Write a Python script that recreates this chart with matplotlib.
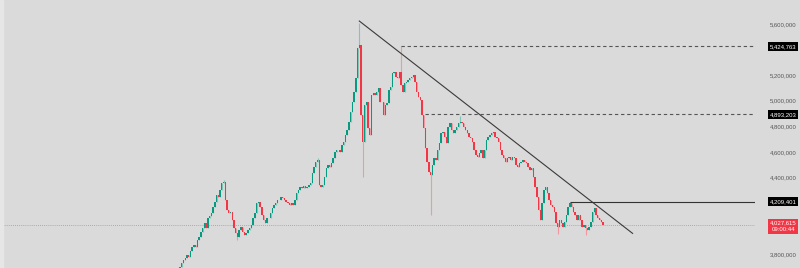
import matplotlib
matplotlib.use('Agg')
import matplotlib.pyplot as plt
import matplotlib.transforms as mtransforms
from matplotlib.patches import Rectangle

# 1. 데이터 (가격, 천 단위)
closes = [
    # 상승 구간
    3694, 3733, 3749, 3765, 3788, 3780, 3827, 3851, 3867, 3851, 3906, 3929, 3969, 4000, 4039, 4000,
    4078, 4094, 4118, 4165, 4204, 4259, 4243, 4298, 4353, 4361, 4220, 4141, 4118, 4125, 4063, 4000,
    3961, 3929, 3984, 4008, 3969, 3945, 3961, 3984, 4000, 4024, 4078, 4118, 4196, 4204, 4165, 4102,
    4063, 4039, 4078,
    4078, 4118, 4157, 4180, 4196, 4220, 4220, 4243, 4235, 4220, 4204, 4196, 4180, 4196, 4180, 4220,
    4275, 4298, 4322, 4314, 4329, 4314, 4322, 4337, 4353, 4431, 4478, 4518, 4533, 4337, 4322, 4337,
    4400, 4471, 4494, 4478, 4510, 4549, 4596, 4612, 4612, 4596, 4651, 4675, 4729, 4769,
    # 고점 구간
    4831, 4910, 4988, 5067, 5176, 5412, 5435, 4886, 4675, 4965, 4988, 4784, 4729, 5043, 5059, 5043,
    5067, 5098, 4988, 4988, 4886, 4965, 4980, 5082, 5106, 5216, 5224, 5184, 5176, 5224, 5122, 5067,
    5137, 5145, 5161, 5176, 5184, 5200, 5145, 5067, 5027, 5004, 4886, 4784, 4627, 4518, 4439, 4416,
    4494, 4549,
    # 하락 구간
    4533, 4612, 4667, 4745, 4753, 4714, 4667, 4792, 4824, 4769, 4745, 4769, 4792, 4824, 4831, 4824,
    4792, 4769, 4745, 4714, 4706, 4675, 4612, 4573, 4557, 4588, 4612, 4549, 4612, 4690, 4714, 4729,
    4745, 4753, 4714, 4706, 4675, 4612, 4573, 4549, 4518, 4549, 4557, 4533, 4557, 4549, 4494, 4478,
    4510, 4518,
    4533, 4518, 4510, 4478, 4455, 4471, 4400, 4322, 4243, 4141, 4063, 4196, 4298, 4322, 4275, 4220,
    4180, 4165, 4125, 4039, 4008, 4063, 4039, 4008, 4047, 4102, 4165, 4196, 4165, 4125, 4102, 4063,
    4102, 4063, 4008, 4024, 4000, 3984, 4008, 4047, 4125, 4157, 4102, 4078, 4063, 4047, 4027.615,
]
first_open = 3680

# 눈에 띄는 꼬리
high_idx = [25, 79, 103, 127, 161, 224]
high_val = [4376, 4549, 5610, 5424.763, 4880, 4209.401]
low_idx = [33, 105, 144, 217, 233]
low_val = [3906, 4400, 4102, 3960, 3945]

# 추세선 / 수평선
trend_idx = [103, 260]
trend_val = [5624, 3961]
level_start = [127, 141, 224]
level_val = [5424.763, 4893.203, 4209.401]
last_time = '09:00:44'

tick_vals = [5600, 5200, 5000, 4800, 4600, 4400, 3800]

# 2. OHLC 만들기
n = len(closes)
opens = [first_open] + closes[:-1]
highs = [max(o, c) for o, c in zip(opens, closes)]
lows = [min(o, c) for o, c in zip(opens, closes)]
for i, v in zip(high_idx, high_val):
    highs[i] = v
for i, v in zip(low_idx, low_val):
    lows[i] = v

green = '#089981'
red = '#f23645'
bg = '#dadada'
colors = [green if c >= o else red for o, c in zip(opens, closes)]
wick_colors = ['#7cc7b8' if c >= o else '#f398a0' for o, c in zip(opens, closes)]

# 3. 그리기
fig = plt.figure(figsize=(8, 2.68), dpi=100)
fig.patch.set_facecolor(bg)
ax = fig.add_axes([0, 0, 755 / 800, 1])
ax.set_facecolor(bg)

x = list(range(n))
ax.vlines(x, lows, highs, colors=wick_colors, lw=0.8, zorder=2)
bodies = [max(abs(c - o), 5) for o, c in zip(opens, closes)]
bottoms = [min(o, c) for o, c in zip(opens, closes)]
ax.bar(x, bodies, bottom=bottoms, width=0.8, color=colors, linewidth=0, zorder=3)

sp = 423 / (n - 1)
xmin, xmax = -180 / sp, (755 - 180) / sp
ax.set_xlim(xmin, xmax)
ax.set_ylim(3690, 5788.7)

ax.plot(trend_idx, trend_val, color='#3a3a3a', lw=0.8, zorder=4)
ax.hlines(level_val[:2], level_start[:2], xmax, colors='#555555', lw=0.8,
          linestyles=(0, (3, 2.5)), zorder=4)
ax.hlines(level_val[2], level_start[2], xmax, colors='#333333', lw=0.8, zorder=4)
ax.axhline(closes[-1], color=red, lw=0.6, ls=(0, (1, 1.5)), alpha=0.6, zorder=1)

for s in ax.spines.values():
    s.set_visible(False)
ax.set_xticks([])
ax.yaxis.tick_right()
ax.set_yticks(tick_vals)
ax.set_yticklabels([f'{v * 1000:,.0f}' for v in tick_vals], fontsize=4.3,
                   color='#555555', family='Liberation Sans')
ax.tick_params(axis='y', length=0, pad=11)

# 가격 라벨
trans = mtransforms.blended_transform_factory(fig.transFigure, ax.transData)
for v in level_val:
    ax.text(0.979, v, f'{v * 1000:,.0f}', transform=trans, ha='center', va='center',
            fontsize=4.3, color='white', family='Liberation Sans', clip_on=False, zorder=10,
            bbox=dict(boxstyle='square,pad=0.3', fc='black', ec='none'))
ax.text(0.979, closes[-1] - 10, f'{closes[-1] * 1000:,.0f}\n{last_time}', transform=trans,
        ha='center', va='center', fontsize=4.3, color='white', family='Liberation Sans',
        linespacing=1.4, clip_on=False, zorder=10,
        bbox=dict(boxstyle='square,pad=0.3', fc=red, ec='none'))

fig.patches.append(Rectangle((0, 0), 3 / 800, 1, transform=fig.transFigure,
                             color='#e6e6e6', zorder=5))

plt.savefig('out.png', dpi=100, facecolor=bg)
